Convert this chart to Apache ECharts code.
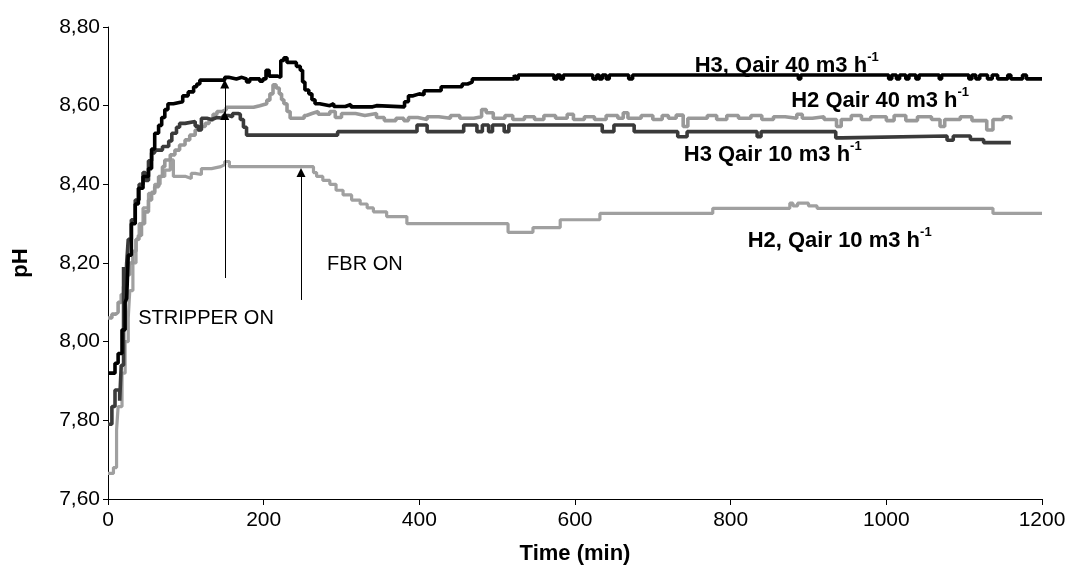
<!DOCTYPE html>
<html>
<head>
<meta charset="utf-8">
<script src="https://cdn.jsdelivr.net/npm/echarts@6/dist/echarts.min.js"></script>
<style>
html,body{margin:0;padding:0;background:#fff;}
#chart{width:1072px;height:574px;}
</style>
</head>
<body>
<div id="chart"></div>
<script>
// ---- data (time in min, pH) ----
const xTicks = [0, 200, 400, 600, 800, 1000, 1200];
const yTicks = [7.6, 7.8, 8.0, 8.2, 8.4, 8.6, 8.8];

const h3Qair40 = [[0,7.92],[9,7.945],[13,7.97],[18,8.03],[22,8.10],[24,8.11],[26,8.22],[30,8.30],[35,8.35],[39,8.39],[45,8.42],[52,8.44],[56,8.49],[60,8.53],[65,8.55],[69,8.57],[73,8.59],[77,8.605],[84,8.61],[96,8.625],[103,8.635],[110,8.648],[114,8.655],[118,8.665],[150,8.672],[155,8.668],[165,8.672],[172,8.668],[178,8.66],[182,8.668],[195,8.662],[199,8.668],[203,8.69],[207,8.675],[218,8.672],[222,8.715],[226,8.722],[230,8.71],[242,8.70],[247,8.69],[250,8.66],[253,8.64],[258,8.63],[262,8.615],[266,8.605],[272,8.60],[285,8.605],[290,8.598],[305,8.603],[312,8.597],[340,8.60],[345,8.597],[381,8.61],[386,8.625],[392,8.63],[400,8.628],[406,8.638],[428,8.648],[455,8.655],[462,8.66],[468,8.668],[522,8.678],[524,8.668],[527,8.678],[573,8.668],[577,8.678],[581,8.668],[585,8.678],[623,8.668],[628,8.678],[631,8.668],[635,8.678],[640,8.668],[644,8.678],[669,8.668],[674,8.678],[887,8.668],[890,8.678],[1003,8.668],[1007,8.678],[1013,8.668],[1017,8.678],[1025,8.668],[1029,8.678],[1038,8.668],[1042,8.678],[1068,8.668],[1071,8.678],[1106,8.668],[1110,8.678],[1115,8.668],[1120,8.678],[1130,8.668],[1136,8.678],[1143,8.668],[1156,8.678],[1160,8.668],[1175,8.678],[1180,8.668],[1200,8.668]];

const h2Qair40 = [[0,8.06],[5,8.07],[10,8.075],[13,8.10],[17,8.12],[20,8.14],[24,8.17],[28,8.20],[32,8.23],[36,8.26],[39,8.27],[43,8.30],[47,8.33],[52,8.36],[56,8.38],[60,8.394],[65,8.42],[70,8.445],[73,8.462],[80,8.475],[86,8.487],[92,8.50],[99,8.513],[105,8.525],[112,8.538],[118,8.547],[125,8.555],[130,8.564],[135,8.578],[140,8.585],[146,8.59],[152,8.596],[187,8.60],[195,8.605],[204,8.614],[208,8.63],[212,8.653],[216,8.645],[220,8.63],[223,8.615],[226,8.605],[230,8.585],[234,8.568],[252,8.575],[255,8.58],[262,8.585],[270,8.578],[285,8.585],[292,8.57],[300,8.58],[318,8.575],[330,8.58],[345,8.57],[355,8.562],[370,8.568],[380,8.562],[386,8.57],[398,8.565],[410,8.572],[425,8.568],[440,8.575],[452,8.568],[470,8.572],[480,8.59],[486,8.582],[495,8.568],[510,8.575],[520,8.565],[535,8.572],[548,8.565],[560,8.575],[575,8.568],[590,8.578],[598,8.565],[612,8.572],[625,8.565],[640,8.575],[655,8.568],[662,8.582],[668,8.568],[685,8.575],[700,8.565],[712,8.575],[720,8.568],[730,8.576],[739,8.547],[745,8.568],[770,8.575],[782,8.565],[795,8.575],[810,8.568],[826,8.575],[840,8.565],[855,8.572],[870,8.568],[885,8.578],[892,8.568],[905,8.572],[920,8.565],[936,8.547],[942,8.565],[955,8.575],[968,8.565],[980,8.572],[1000,8.562],[1010,8.575],[1025,8.562],[1040,8.572],[1058,8.565],[1069,8.547],[1075,8.565],[1095,8.572],[1110,8.562],[1129,8.538],[1137,8.565],[1150,8.572],[1160,8.565]];

const h3Qair10 = [[0,7.79],[5,7.835],[9,7.877],[15,7.85],[17,7.94],[20,8.19],[22,8.10],[24,8.20],[26,8.26],[30,8.31],[35,8.36],[40,8.40],[45,8.43],[48,8.41],[52,8.46],[56,8.48],[60,8.487],[70,8.496],[78,8.51],[82,8.53],[88,8.545],[92,8.555],[99,8.56],[112,8.548],[116,8.538],[120,8.568],[127,8.565],[133,8.57],[140,8.568],[148,8.575],[155,8.572],[160,8.58],[167,8.578],[170,8.565],[174,8.545],[178,8.525],[295,8.534],[397,8.551],[410,8.534],[457,8.551],[474,8.534],[481,8.551],[489,8.534],[494,8.551],[509,8.534],[515,8.551],[635,8.534],[650,8.551],[676,8.534],[732,8.521],[744,8.534],[834,8.521],[839,8.534],[935,8.518],[943,8.523],[1078,8.512],[1086,8.523],[1108,8.514],[1125,8.506],[1160,8.506]];

const h2Qair10 = [[0,7.665],[7,7.68],[11,7.775],[13,7.835],[18,7.92],[22,8.00],[26,8.06],[28,8.13],[32,8.20],[36,8.26],[40,8.30],[45,8.34],[52,8.377],[60,8.40],[67,8.42],[73,8.436],[80,8.462],[84,8.42],[100,8.415],[107,8.428],[112,8.425],[120,8.44],[133,8.445],[145,8.45],[150,8.458],[156,8.445],[264,8.43],[268,8.42],[276,8.41],[285,8.40],[293,8.385],[302,8.373],[313,8.36],[324,8.35],[333,8.34],[341,8.33],[358,8.318],[384,8.30],[514,8.278],[546,8.29],[581,8.31],[632,8.326],[777,8.339],[876,8.352],[880,8.345],[886,8.352],[900,8.345],[911,8.339],[1137,8.326],[1200,8.326]];

const seriesNames = ['H3, Qair 40 m3 h', 'H2 Qair 40 m3 h', 'H3 Qair 10 m3 h', 'H2, Qair 10 m3 h'];
const seriesSup = '-1';
const seriesLabelPos = [[872, 8.706], [992, 8.617], [854, 8.480], [940, 8.261]];

const eventTexts = ['STRIPPER ON', 'FBR ON'];
const eventTextPos = [[126, 8.059], [330, 8.195]];
// arrows: [time, start pH, end pH]
const arrows = [[150, 8.162, 8.655], [150, 8.162, 8.575], [248, 8.106, 8.43]];

const FONT = 'Liberation Sans, Arial, Helvetica, sans-serif';
const fmt = v => v.toFixed(2).replace('.', ',');

const chart = echarts.init(document.getElementById('chart'), null, {renderer: 'canvas'});

const seriesLabelData = seriesNames.map((n, i) => ({
  coord: seriesLabelPos[i],
  value: n,
  label: {formatter: '{b|' + n + '}{s|' + seriesSup + '}'}
}));
const eventLabelData = eventTexts.map((t, i) => ({
  coord: eventTextPos[i],
  value: t,
  label: {formatter: '{n|' + t + '}'}
}));

const option = {
  backgroundColor: '#ffffff',
  animation: false,
  grid: {left: 108, right: 30, top: 27, bottom: 75, containLabel: false},
  xAxis: {
    type: 'value', min: xTicks[0], max: xTicks[xTicks.length - 1], interval: 200,
    name: 'Time (min)', nameLocation: 'middle', nameGap: 44,
    nameTextStyle: {fontFamily: FONT, fontSize: 22, fontWeight: 'bold', color: '#000'},
    axisLine: {lineStyle: {color: '#000', width: 1}},
    axisTick: {show: true, inside: false, length: 6, lineStyle: {color: '#000'}},
    axisLabel: {fontFamily: FONT, fontSize: 21, color: '#000', margin: 11, formatter: v => String(v)},
    splitLine: {show: false}
  },
  yAxis: {
    type: 'value', min: yTicks[0], max: yTicks[yTicks.length - 1], interval: 0.2,
    name: 'pH', nameLocation: 'middle', nameGap: 76, nameRotate: 90,
    nameTextStyle: {fontFamily: FONT, fontSize: 22, fontWeight: 'bold', color: '#000'},
    axisLine: {show: true, lineStyle: {color: '#000', width: 1}},
    axisTick: {show: true, inside: false, length: 5, lineStyle: {color: '#000'}},
    axisLabel: {fontFamily: FONT, fontSize: 21, color: '#000', margin: 8, formatter: fmt},
    splitLine: {show: false}
  },
  series: [
    {
      name: 'H2, Qair 10', type: 'line', step: 'end', data: h2Qair10, showSymbol: false,
      lineStyle: {color: '#a0a0a0', width: 3.2}, itemStyle: {color: '#a0a0a0'}, z: 2,
      markPoint: {
        symbol: 'circle', symbolSize: 0, silent: true,
        label: {show: true, position: 'inside', color: '#000',
          rich: {n: {fontFamily: FONT, fontSize: 20, color: '#000'}}},
        data: eventLabelData
      }
    },
    {
      name: 'H2 Qair 40', type: 'line', step: 'end', data: h2Qair40, showSymbol: false,
      lineStyle: {color: '#999999', width: 3.6}, itemStyle: {color: '#999999'}, z: 3
    },
    {
      name: 'H3 Qair 10', type: 'line', step: 'end', data: h3Qair10, showSymbol: false,
      lineStyle: {color: '#3a3a3a', width: 3.6}, itemStyle: {color: '#3a3a3a'}, z: 4
    },
    {
      name: 'H3, Qair 40', type: 'line', step: 'end', data: h3Qair40, showSymbol: false,
      lineStyle: {color: '#000000', width: 3.6}, itemStyle: {color: '#000'}, z: 5,
      markLine: {
        silent: true, symbol: ['none', 'triangle'], symbolSize: 9, animation: false,
        lineStyle: {color: '#000', width: 1, type: 'solid'},
        itemStyle: {color: '#000'},
        label: {show: false},
        data: arrows.map(a => [{coord: [a[0], a[1]]}, {coord: [a[0], a[2]]}])
      },
      markPoint: {
        symbol: 'circle', symbolSize: 0, silent: true,
        label: {show: true, position: 'inside', color: '#000',
          rich: {
            b: {fontFamily: FONT, fontSize: 22, fontWeight: 'bold', color: '#000', lineHeight: 26, verticalAlign: 'bottom'},
            s: {fontFamily: FONT, fontSize: 13, fontWeight: 'bold', color: '#000', lineHeight: 26, verticalAlign: 'top', padding: [0, 0, 12, 0]}
          }},
        data: seriesLabelData
      }
    }
  ]
};
chart.setOption(option);
</script>
</body>
</html>
